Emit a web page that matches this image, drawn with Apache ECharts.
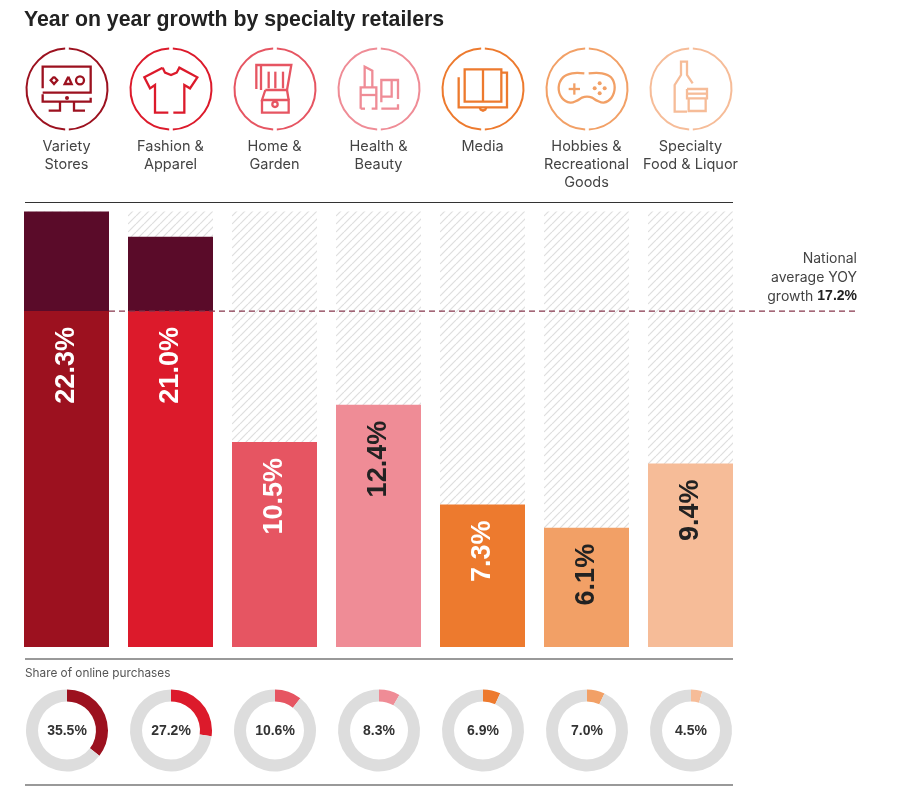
<!DOCTYPE html>
<html><head><meta charset="utf-8">
<style>html,body{margin:0;padding:0;background:#fff}#c{width:902px;height:788px}</style>
<script src="https://cdn.jsdelivr.net/npm/echarts@6/dist/echarts.min.js"></script>
</head><body><div id="c"></div>
<script>
const categories = ['Variety\nStores','Fashion &\nApparel','Home &\nGarden','Health &\nBeauty','Media','Hobbies &\nRecreational\nGoods','Specialty\nFood & Liquor'];
const growth = [22.3,21.0,10.5,12.4,7.3,6.1,9.4];
const onlineShare = [35.5,27.2,10.6,8.3,6.9,7.0,4.5];
const nationalAverage = 17.2;
const colors = ['#9C111F','#DC1A2B','#E65562','#EF8C96','#ED7A2E','#F2A066','#F6BC98'];
const excessColor = '#5A0B29';
const labelColors = ['#fff','#fff','#fff','#222','#fff','#222','#222'];

const FONT = 'Inter, "Noto Sans", sans-serif';
const BOLD = '"Liberation Sans", Arial, sans-serif';
const centers = categories.map((_, i) => 66.5 + 104 * i);

// hatch tile
const tile = document.createElement('canvas');
tile.width = tile.height = 8;
const g = tile.getContext('2d');
g.strokeStyle = '#DEDEDE'; g.lineWidth = 1.2;
for (const o of [-8, 0, 8]) { g.beginPath(); g.moveTo(o, 8); g.lineTo(o + 8, 0); g.stroke(); }

const chart = echarts.init(document.getElementById('c'), null, {renderer: 'canvas'});
const topVal = Math.max(...growth);

// --- icon helpers, coordinates in zoomed reference px relative to icon centre
const S = 1 / 3;
const pts = a => a.map(p => [p[0] * S, p[1] * S]);
function icon(i, parts) {
  const c = colors[i];
  const ring = {stroke: c, fill: null, lineWidth: 2};
  const base = {stroke: c, fill: null, lineWidth: 2.3};
  const children = [
    {type: 'arc', shape: {cx: 0, cy: 0, r: 40.5, startAngle: -Math.PI / 2 + 0.045, endAngle: Math.PI / 2 - 0.045, clockwise: true}, style: ring},
    {type: 'arc', shape: {cx: 0, cy: 0, r: 40.5, startAngle: Math.PI / 2 + 0.045, endAngle: Math.PI * 1.5 - 0.045, clockwise: true}, style: ring}
  ];
  parts.forEach(p => {
    if (p.l) children.push({type: 'polyline', shape: {points: pts(p.l), smooth: p.s || 0}, style: {...base, lineCap: 'butt', lineJoin: 'miter'}});
    if (p.c) children.push({type: 'circle', shape: {cx: p.c[0] * S, cy: p.c[1] * S, r: p.c[2] * S}, style: p.f ? {fill: c, stroke: null} : base});
  });
  return {type: 'group', x: centers[i] + 0.5, y: 89, children};
}
const icons = [
  [ {l:[[-73,-2],[-73,-67],[71,-67],[71,11],[-73,11]]},
    {l:[[-73,16],[-73,38],[71,38],[71,26]]},
    {l:[[-39,-37],[-29,-26],[-39,-15],[-49,-26],[-39,-37]]},
    {l:[[4,-37],[14,-15],[-7,-15],[4,-37]]},
    {c:[39,-26,12]}, {c:[0,27,6],f:1},
    {l:[[-21,38],[-21,65],[-55,65]]}, {l:[[21,38],[21,65],[54,65]]} ],
  [ {l:[[-25,-64],[-18,-49],[0,-42],[17,-49],[25,-64],[79,-35],[57,-2],[40,-12],[40,71],[7,71]]},
    {l:[[-8,71],[-48,71],[-48,-12],[-63,-2],[-80,-35],[-25,-64]]} ],
  [ {l:[[-56,0],[-56,-72],[49,-72],[36,3]]},
    {l:[[-42,3],[-42,-72]]},
    {l:[[-19,-52],[-19,-2]]},{l:[[1,-52],[1,-2]]},{l:[[24,-52],[24,-2]]},
    {l:[[-29,3],[36,3],[41,33]]},
    {l:[[-29,3],[-39,33],[41,33],[41,71],[-39,71],[-39,33]]}, {c:[0,46,8]} ],
  [ {l:[[-43,-5],[-43,-67],[-20,-55],[-20,-5]]},
    {l:[[-55,59],[-55,-5],[-8,-5],[-8,59],[-22,59]]},{l:[[-55,59],[-42,59]]},
    {l:[[-55,18],[-8,18]]},
    {l:[[7,40],[7,-27],[57,-27],[57,30]]},
    {l:[[7,23],[38,23],[38,-27]]},
    {l:[[7,59],[57,59],[57,46]]} ],
  [ {l:[[0,-59],[-55,-59],[-55,38],[55,38],[55,-59],[0,-59],[0,38]]},
    {l:[[-73,-35],[-73,55],[72,55],[72,-49],[55,-49]]},
    {l:[[-10,55],[-7,62],[0,65],[7,62],[10,55]]} ],
  [ {l:[[-8,-47],[-45,-47],[-72,-35],[-85,-5],[-75,27],[-50,41],[-30,35],[-15,26],[0,23],[15,26],[30,35],[50,41],[73,27],[83,-5],[72,-35],[45,-47],[5,-47]],s:0.35},
    {l:[[-38,-17],[-38,17]]},{l:[[-55,0],[-21,0]]},
    {c:[38,-17,6],f:1},{c:[38,13,6],f:1},{c:[23,-2,6],f:1},{c:[53,-2,6],f:1} ],
  [ {l:[[-12,68],[-49,68],[-49,-12],[-30,-42],[-30,-82],[-12,-82],[-12,-42],[5,-17]]},
    {l:[[-12,0],[48,0],[48,28],[-12,28],[-12,0]]},
    {l:[[-7,28],[-7,66],[44,66],[44,28]]},
    {l:[[-12,14],[48,14]]} ]
];

const textEl = (x, y, text, style) => ({type: 'text', x, y, style: {text, fontFamily: FONT, ...style}});
const rule = (y, stroke, w) => ({type: 'line', shape: {x1: 25, y1: y, x2: 733, y2: y}, style: {stroke, lineWidth: w}});

const graphics = [
  rule(202.5, '#333', 1.2), rule(659, '#999', 2), rule(785, '#999', 2),
  textEl(25, 667.5, 'Share of online purchases', {fontSize: 11.8, fill: '#555'}),
  textEl(857, 249, 'National\naverage YOY\ngrowth {b|' + nationalAverage.toFixed(1) + '%}', {
    align: 'right', fontSize: 14, fill: '#444', lineHeight: 19,
    rich: {b: {fontWeight: 700, fontSize: 14, fill: '#222', fontFamily: BOLD, lineHeight: 19}}
  }),
  ...icons.map((p, i) => icon(i, p))
];

const yAxisCfg = {type: 'value', min: 0, max: 24, show: false};
const gridTop = 647 - 19.53 * 24;

const series = [
  {type: 'bar', name: 'hatch', silent: true, barWidth: 85, barGap: '-100%',
   data: growth.map(() => topVal),
   itemStyle: {color: {image: tile, repeat: 'repeat'}}, z: 1},
  {type: 'bar', name: 'Growth', stack: 'g', barWidth: 85, barGap: '-100%', z: 2,
   data: growth.map((v, i) => ({value: Math.min(v, nationalAverage), itemStyle: {color: colors[i]},
     label: {color: labelColors[i]}})),
   label: {show: true, position: 'insideTop', rotate: 90, align: 'right', verticalAlign: 'middle', distance: 16,
     fontFamily: BOLD, fontWeight: 700, fontSize: 27,
     formatter: p => growth[p.dataIndex].toFixed(1) + '%'}},
  {type: 'bar', name: 'Above average', stack: 'g', barWidth: 85, barGap: '-100%', z: 2,
   data: growth.map(v => Math.max(v - nationalAverage, 0)),
   itemStyle: {color: excessColor}},
  {type: 'line', name: 'National average', xAxisIndex: 1, yAxisIndex: 1, symbol: 'none', silent: true, z: 5,
   data: [[0, nationalAverage], [1, nationalAverage]],
   lineStyle: {color: '#86364C', width: 1.1, type: [6, 4]}},
  ...onlineShare.map((v, i) => ({
    type: 'pie', silent: true, center: [centers[i] + 0.5, 730.5], radius: [29, 41], startAngle: 90, clockwise: true,
    labelLine: {show: false},
    data: [
      {value: v, itemStyle: {color: colors[i]},
       label: {show: true, position: 'center', offset: [0, 1], formatter: v.toFixed(1) + '%', fontFamily: BOLD, fontWeight: 700, fontSize: 14, color: '#333'}},
      {value: 100 - v, itemStyle: {color: '#DDDDDD'}, label: {show: false}}
    ]
  }))
];

chart.setOption({
  animation: false,
  backgroundColor: '#fff',
  title: {text: 'Year on year growth by specialty retailers', left: 24, top: 10, padding: 0,
    textStyle: {fontFamily: BOLD, fontWeight: 700, fontSize: 21.3, color: '#222'}},
  grid: [
    {left: 14.5, width: 728, top: gridTop, bottom: 141},
    {left: 109, width: 748, top: gridTop, bottom: 141}
  ],
  xAxis: [
    {type: 'category', data: categories, position: 'top', axisLine: {show: false}, axisTick: {show: false},
     axisLabel: {interval: 0, margin: gridTop - 137, verticalAlign: 'top', fontFamily: FONT, fontSize: 14.5, lineHeight: 18.3, color: '#444'}},
    {type: 'value', gridIndex: 1, min: 0, max: 1, show: false}
  ],
  yAxis: [yAxisCfg, {...yAxisCfg, gridIndex: 1}],
  series,
  graphic: graphics
});
</script></body></html>
